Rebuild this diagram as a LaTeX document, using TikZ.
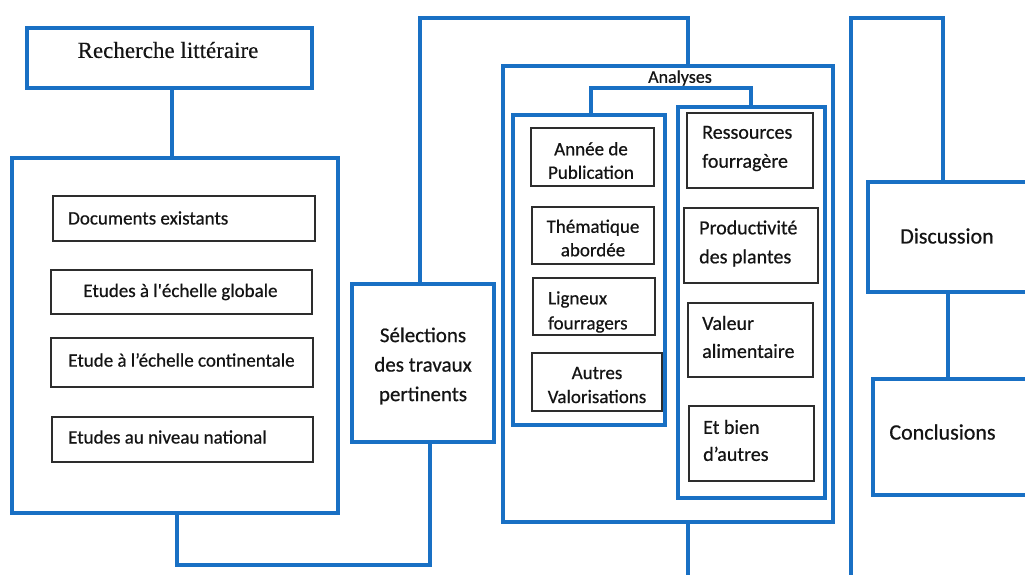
\documentclass[tikz,border=0pt]{standalone}
\usepackage{fontspec}
\setmainfont{Carlito}[FakeBold=0.6]
\newfontfamily\seriffont{Liberation Serif}[FakeBold=0.3]
\definecolor{bl}{RGB}{25,112,196}
\definecolor{bk}{RGB}{45,45,45}
\definecolor{tx}{RGB}{20,20,20}
\tikzset{
 bluebox/.style={draw=bl, line width=3.5pt, inner sep=0pt},
 blackbox/.style={draw=bk, line width=1.6pt, inner sep=0pt},
 conn/.style={draw=bl, line width=3.5pt},
 lbl/.style={inner sep=0pt, text=tx},
 fA/.style={font=\fontsize{19}{23.5}\selectfont},
 fB/.style={font=\fontsize{20}{28}\selectfont},
 fC/.style={font=\fontsize{21}{29.5}\selectfont},
}
\begin{document}
\begin{tikzpicture}[x=1pt,y=-1pt]
\clip (0,0) rectangle (1025,574);
\fill[white] (0,0) rectangle (1025,574);
% blue boxes
\node[bluebox, minimum width=285, minimum height=60] (rech) at (169.5,58) {};
\node[lbl, font=\seriffont\fontsize{23}{27}\selectfont] (rechT) at (168,50) {Recherche littéraire};
\node[bluebox, minimum width=326, minimum height=355] (left) at (175,335.5) {};
\node[bluebox, minimum width=142, minimum height=158] (sel) at (423,363) {};
\node[lbl, fC, align=center] (selT) at (423,366) {Sélections\\des travaux\\pertinents};
\node[bluebox, minimum width=330, minimum height=456] (ana) at (668,294) {};
\node[lbl, font=\fontsize{18}{20}\selectfont] (anaT) at (680,78) {Analyses};
\node[bluebox, minimum width=152, minimum height=310] (inL) at (589,270) {};
\node[bluebox, minimum width=147, minimum height=391] (inR) at (751.5,302.5) {};
\node[bluebox, minimum width=172, minimum height=110] (disc) at (954,237) {};
\node[lbl, font=\fontsize{22}{26}\selectfont] (discT) at (947,236) {Discussion};
\node[bluebox, minimum width=167, minimum height=116] (concl) at (956.5,437) {};
\node[lbl, font=\fontsize{22}{26}\selectfont] (conclT) at (942.5,432) {Conclusions};
% black boxes left
\node[blackbox, minimum width=262, minimum height=45] (doc) at (184,218.5) {};
\node[lbl, fA, anchor=west] (docT) at (68,218) {Documents existants};
\node[blackbox, minimum width=261, minimum height=44] (glob) at (181.5,292) {};
\node[lbl, fA] (globT) at (180.5,292) {Etudes à l\textquotesingle échelle globale};
\node[blackbox, minimum width=262, minimum height=49] (cont) at (182,362.5) {};
\node[lbl, fA] (contT) at (181.5,360) {Etude à l’échelle continentale};
\node[blackbox, minimum width=261, minimum height=45] (nat) at (182.5,439.5) {};
\node[lbl, fA, anchor=west] (natT) at (68,437) {Etudes au niveau national};
% black boxes analyses left column
\node[blackbox, minimum width=123, minimum height=58] (annee) at (592.5,157) {};
\node[lbl, fA, align=center] (anneeT) at (591,160.5) {Année de\\Publication};
\node[blackbox, minimum width=122, minimum height=57] (them) at (593,235.5) {};
\node[lbl, fA, align=center] (themT) at (593,238) {Thématique\\abordée};
\node[blackbox, minimum width=122, minimum height=57] (lign) at (594,306.5) {};
\node[lbl, fA, align=left, anchor=west, font=\fontsize{19}{25}\selectfont] (lignT) at (548,312) {Ligneux\\fourragers};
\node[blackbox, minimum width=130, minimum height=58] (autres) at (597,382) {};
\node[lbl, fA, align=center, font=\fontsize{19}{24}\selectfont] (autresT) at (597,385) {Autres\\Valorisations};
% black boxes analyses right column
\node[blackbox, minimum width=126, minimum height=75] (ress) at (750,150.5) {};
\node[lbl, fB, align=left, anchor=west, font=\fontsize{20}{29}\selectfont] (ressT) at (702,148.5) {Ressources\\fourragère};
\node[blackbox, minimum width=134, minimum height=75] (prod) at (751,245.5) {};
\node[lbl, fB, align=left, anchor=west, font=\fontsize{20}{29}\selectfont] (prodT) at (699,243.5) {Productivité\\des plantes};
\node[blackbox, minimum width=125, minimum height=74] (val) at (750.5,340) {};
\node[lbl, fB, align=left, anchor=west] (valT) at (702,337) {Valeur\\alimentaire};
\node[blackbox, minimum width=125, minimum height=75] (etb) at (751.5,443.5) {};
\node[lbl, fB, align=left, anchor=west, font=\fontsize{20}{27}\selectfont] (etbT) at (703,440.5) {Et bien\\d’autres};
% route points
\coordinate (p1) at (177,565);
\coordinate (p2) at (430,565);
\coordinate (j1) at (420,18);
\coordinate (j2) at (688,18);
\coordinate (e1) at (688,590);
\coordinate (k1) at (591,88);
\coordinate (k2) at (751,88);
\coordinate (r1) at (851,590);
\coordinate (r2) at (851,18);
\coordinate (r3) at (943,18);
\coordinate (r4) at (948,0);
% connectors
\draw[conn] (rech.south -| 172,0) -- (left.north -| 172,0);
\draw[conn] (left.south -| p1) -- (p1) -- (p2) -- (sel.south -| p2);
\draw[conn] (sel.north -| j1) -- (j1) -- (j2) -- (ana.north -| j2);
\draw[conn] (ana.south -| e1) -- (e1);
\draw[conn] (inL.north -| k1) -- (k1) -- (k2) -- (inR.north -| k2);
\draw[conn] (r1) -- (r2) -- (r3) -- (disc.north -| r3);
\draw[conn] (disc.south -| r4) -- (concl.north -| r4);
\end{tikzpicture}
\end{document}
